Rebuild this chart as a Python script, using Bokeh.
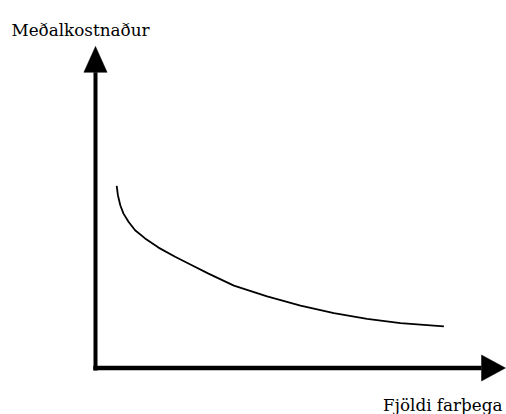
from bokeh.plotting import figure
from bokeh.models import Range1d
from bokeh.core.properties import value
from bokeh.embed import file_html
from bokeh.resources import INLINE

# --- data -------------------------------------------------------------
y_label = "Meðalkostnaður"
x_label = "Fjöldi farþega"

# average cost curve (x: passengers, y: average cost)
curve_x = [5.3, 5.6, 6.2, 7.0, 8.25, 9.9, 12.4, 15.75, 19.9, 24.1, 28.25,
           34.6, 42.9, 51.25, 59.6, 67.9, 76.25, 87.1]
curve_y = [45.55, 43.2, 40.7, 38.6, 36.55, 34.45, 32.4, 30.1, 27.8, 25.7,
           23.6, 20.6, 17.9, 15.6, 13.7, 12.3, 11.2, 10.4]

# axis extents (in data units)
x_axis_end = 102.5
y_axis_end = 80.4

# --- figure -----------------------------------------------------------
W, H = 506, 414
p = figure(width=W, height=H, output_backend="svg", toolbar_location=None,
           x_range=Range1d(-23.75, 102.75), y_range=Range1d(-11.625, 91.875),
           min_border=0, outline_line_color=None)
p.axis.visible = False
p.grid.visible = False
p.background_fill_color = "white"
p.border_fill_color = "white"

head_len = 6.0
x_half = 3.25
y_half = 2.9

# axes lines
p.line([-0.55, x_axis_end - head_len], [0, 0], line_color="black", line_width=4.5)
p.line([0, 0], [-0.6, y_axis_end - head_len * 1.08], line_color="black", line_width=4)

# arrow heads
p.patches(
    xs=[[x_axis_end - head_len, x_axis_end, x_axis_end - head_len],
        [-y_half, 0, y_half]],
    ys=[[-x_half, 0, x_half],
        [y_axis_end - head_len * 1.08, y_axis_end, y_axis_end - head_len * 1.08]],
    fill_color="black", line_color="black", line_width=0.5)

# curve
p.line(curve_x, curve_y, line_color="black", line_width=1.8)

# labels
font = value("DejaVu Serif")
p.text(x=[-21.0], y=[84.4], text=[y_label], text_font=font,
       text_font_size="16.8px", text_align="left", text_baseline="alphabetic",
       text_color="black")
p.text(x=[101.75], y=[-9.2], text=[x_label], text_font=font,
       text_font_size="16.8px", text_align="right", text_baseline="alphabetic",
       text_color="black")

open("out.html", "w").write(file_html(p, INLINE))
